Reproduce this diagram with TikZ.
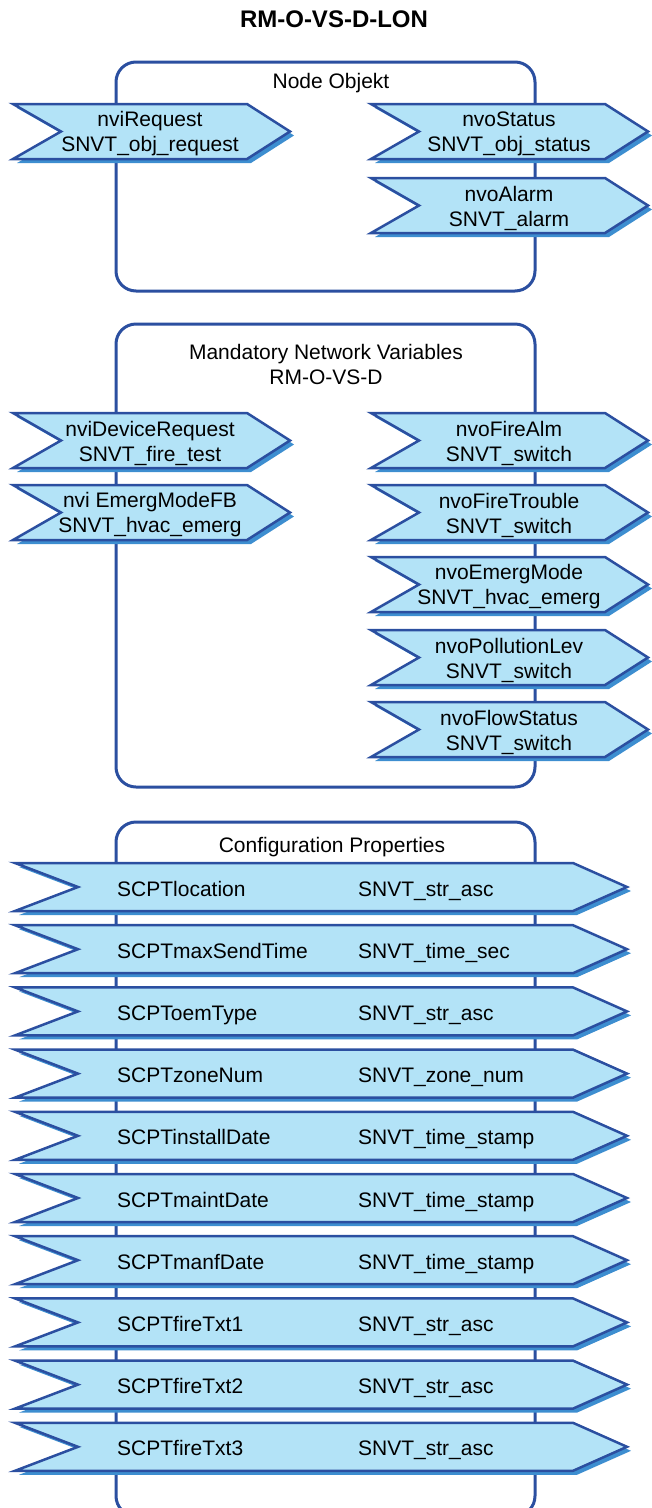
\documentclass[tikz,border=0pt]{standalone}
\usepackage{fontspec}
\setmainfont{Liberation Sans}

\definecolor{nvline}{RGB}{43,79,160}
\definecolor{nvfill}{RGB}{179,227,247}
\definecolor{nvshade}{RGB}{61,142,208}

\tikzset{
    objbox/.style={draw=nvline, line width=3pt, rounded corners=20pt},
    nvarrow/.style={draw=nvline, fill=nvfill, line width=2.5pt, line join=miter},
    nvshadow/.style={fill=nvshade},
    nvtext/.style={align=center, font=\fontsize{21}{25}\selectfont, inner sep=0pt},
}

% #1 left, #2 top, #3 width, #4 height, #5 notch, #6 tip
\newcommand{\nvshape}[6]{%
    \fill[nvshadow, shift={(4,4)}] (#1,#2) -- (#1+#3-#6,#2) -- (#1+#3,#2+#4/2) -- (#1+#3-#6,#2+#4) -- (#1,#2+#4) -- (#1+#5,#2+#4/2) -- cycle;
    \filldraw[nvarrow] (#1,#2) -- (#1+#3-#6,#2) -- (#1+#3,#2+#4/2) -- (#1+#3-#6,#2+#4) -- (#1,#2+#4) -- (#1+#5,#2+#4/2) -- cycle;
}

\begin{document}
\begin{tikzpicture}[x=1pt, y=-1pt]
    \useasboundingbox (0,0) rectangle (651,1508);

    \node[nvtext, font=\fontsize{24}{28}\selectfont\bfseries] (title) at (334,19) {RM-O-VS-D-LON};

    \draw[objbox] (116,62) rectangle (535,291);
    \draw[objbox] (116,324) rectangle (535,787);
    \draw[objbox] (116,822) rectangle (535,1516);

    \node[nvtext] (nobj) at (331,83) {Node Objekt};
    \node[nvtext] (mnv) at (326,364) {Mandatory Network Variables\\RM-O-VS-D};
    \node[nvtext] (cfg) at (332,847) {Configuration Properties};

    % node object
    \nvshape{13}{104}{277}{55}{48}{43}
        \node[nvtext] (req) at (150,134) {nviRequest\\SNVT\_obj\_request};
    \nvshape{371}{104}{277}{55}{48}{43}
        \node[nvtext] (stat) at (509,134) {nvoStatus\\SNVT\_obj\_status};
    \nvshape{371}{178}{277}{55}{48}{43}
        \node[nvtext] (alrm) at (509,208) {nvoAlarm\\SNVT\_alarm};

    % mandatory network variables
    \nvshape{13}{413}{277}{55}{48}{43}
        \node[nvtext] (devreq) at (150,443) {nviDeviceRequest\\SNVT\_fire\_test};
    \nvshape{13}{485}{277}{55}{48}{43}
        \node[nvtext] (emfb) at (150,515) {nvi EmergModeFB\\SNVT\_hvac\_emerg};
    \nvshape{371}{413}{277}{55}{48}{43}
        \node[nvtext] (falm) at (509,443) {nvoFireAlm\\SNVT\_switch};
    \nvshape{371}{485}{277}{55}{48}{43}
        \node[nvtext] (ftrb) at (509,515) {nvoFireTrouble\\SNVT\_switch};
    \nvshape{371}{557}{277}{55}{48}{43}
        \node[nvtext] (emrg) at (509,587) {nvoEmergMode\\SNVT\_hvac\_emerg};
    \nvshape{371}{630}{277}{55}{48}{43}
        \node[nvtext] (poll) at (509,660) {nvoPollutionLev\\SNVT\_switch};
    \nvshape{371}{702}{277}{55}{48}{43}
        \node[nvtext] (flow) at (509,732) {nvoFlowStatus\\SNVT\_switch};

    % configuration properties
    \foreach \p/\t [count=\i from 0] in {SCPTlocation/SNVT\_str\_asc, SCPTmaxSendTime/SNVT\_time\_sec,
        SCPToemType/SNVT\_str\_asc, SCPTzoneNum/SNVT\_zone\_num, SCPTinstallDate/SNVT\_time\_stamp,
        SCPTmaintDate/SNVT\_time\_stamp, SCPTmanfDate/SNVT\_time\_stamp, SCPTfireTxt1/SNVT\_str\_asc,
        SCPTfireTxt2/SNVT\_str\_asc, SCPTfireTxt3/SNVT\_str\_asc} {
        \nvshape{15}{863+62.2*\i}{612}{48}{63}{54}
        \node[nvtext, anchor=base west] (cp\i) at (117,896+62.2*\i) {\p};
        \node[nvtext, anchor=base west] (ct\i) at (358,896+62.2*\i) {\t};
    }
\end{tikzpicture}
\end{document}
